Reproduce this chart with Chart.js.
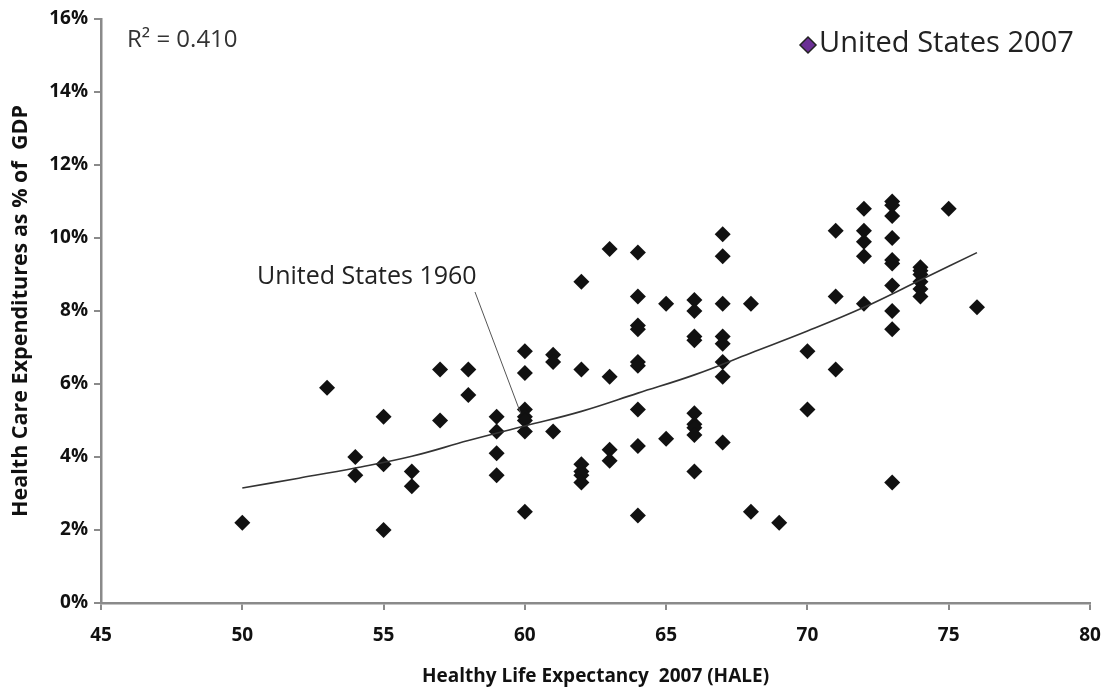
<!DOCTYPE html>
<html>
<head>
<meta charset="utf-8">
<script src="https://cdn.jsdelivr.net/npm/chart.js@4/dist/chart.umd.min.js"></script>
<style>
  html, body { margin: 0; padding: 0; background: #fff; }
  #wrap { width: 1111px; height: 688px; position: relative; }
</style>
</head>
<body>
<div id="wrap"><canvas id="chart"></canvas></div>
<script>
// HALE 2007 (x) and health spending % of GDP (y)
const hale = [
  50, 53, 54, 54, 55, 55, 55, 56, 56, 57, 57, 58, 58,
  59, 59, 59, 59, 60, 60, 60, 60, 60, 60, 60,
  61, 61, 61, 62, 62, 62, 62, 62, 62,
  63, 63, 63, 63, 64, 64, 64, 64, 64, 64, 64, 64, 64,
  65, 65, 66, 66, 66, 66, 66, 66, 66, 66, 66,
  67, 67, 67, 67, 67, 67, 67, 67, 68, 68, 69, 70, 70,
  71, 71, 71, 72, 72, 72, 72, 72,
  73, 73, 73, 73, 73, 73, 73, 73, 73, 73,
  74, 74, 74, 74, 74, 74, 75, 76
];
const spend = [
  2.2, 5.9, 4.0, 3.5, 5.1, 3.8, 2.0, 3.6, 3.2, 6.4, 5.0, 6.4, 5.7,
  5.1, 4.7, 4.1, 3.5, 6.9, 6.3, 5.3, 5.1, 5.0, 4.7, 2.5,
  6.8, 6.6, 4.7, 8.8, 6.4, 3.8, 3.6, 3.5, 3.3,
  9.7, 6.2, 4.2, 3.9, 9.6, 8.4, 7.6, 7.5, 6.6, 6.5, 5.3, 4.3, 2.4,
  8.2, 4.5, 8.3, 8.0, 7.3, 7.2, 5.2, 4.9, 4.8, 4.6, 3.6,
  10.1, 9.5, 8.2, 7.3, 7.1, 6.6, 6.2, 4.4, 8.2, 2.5, 2.2, 6.9, 5.3,
  10.2, 8.4, 6.4, 10.8, 10.2, 9.9, 9.5, 8.2,
  11.0, 10.9, 10.6, 10.0, 9.4, 9.3, 8.7, 8.0, 7.5, 3.3,
  9.2, 9.1, 9.0, 8.8, 8.6, 8.4, 10.8, 8.1
];

// trend curve
const trendX = [50, 52, 54, 56, 58, 60, 62, 64, 66, 68, 70, 72, 74, 76];
const trendY = [3.15, 3.42, 3.7, 4.02, 4.45, 4.85, 5.25, 5.75, 6.25, 6.85, 7.45, 8.1, 8.85, 9.6];

const xTicks = [45, 50, 55, 60, 65, 70, 75, 80];
const yTicks = [0, 2, 4, 6, 8, 10, 12, 14, 16];

// US 1960 callout target
const us1960 = { x: 59.85, y: 5.2 };

const FONT = '"Open Sans", "Liberation Sans", sans-serif';
const AXIS_GRAY = '#8a8a8a';

const points = hale.map((h, i) => ({ x: h, y: spend[i] }));
const trend = trendX.map((t, i) => ({ x: t, y: trendY[i] }));

const overlay = {
  id: 'overlay',
  afterDraw(chart) {
    const ctx = chart.ctx;
    const xs = chart.scales.x, ys = chart.scales.y;
    ctx.save();

    // R squared
    ctx.fillStyle = '#333';
    ctx.font = '24px ' + FONT;
    ctx.textBaseline = 'middle';
    ctx.textAlign = 'left';
    ctx.fillText('R² = 0.410', 127, 40);

    // legend (US 2007)
    const lx = 808, ly = 45, r = 8;
    ctx.beginPath();
    ctx.moveTo(lx, ly - r);
    ctx.lineTo(lx + r, ly);
    ctx.lineTo(lx, ly + r);
    ctx.lineTo(lx - r, ly);
    ctx.closePath();
    ctx.fillStyle = '#6b2f95';
    ctx.fill();
    ctx.lineWidth = 1.5;
    ctx.strokeStyle = '#222';
    ctx.stroke();
    ctx.fillStyle = '#222';
    ctx.font = '29px ' + FONT;
    ctx.fillText('United States 2007', 819, 44);

    // US 1960 callout
    ctx.font = '25px ' + FONT;
    ctx.fillStyle = '#222';
    ctx.fillText('United States 1960', 257, 277);
    ctx.beginPath();
    ctx.moveTo(475, 292);
    ctx.lineTo(xs.getPixelForValue(us1960.x), ys.getPixelForValue(us1960.y));
    ctx.lineWidth = 1;
    ctx.strokeStyle = '#555';
    ctx.stroke();

    ctx.restore();
  }
};

const ctx = document.getElementById('chart').getContext('2d');
new Chart(ctx, {
  data: {
    datasets: [
      {
        type: 'scatter',
        label: 'Countries 2007',
        data: points,
        pointStyle: 'rectRot',
        pointRadius: 8,
        pointBackgroundColor: '#111',
        pointBorderColor: '#111',
        pointBorderWidth: 0,
        order: 2
      },
      {
        type: 'line',
        label: 'Trend',
        data: trend,
        borderColor: '#333',
        borderWidth: 1.6,
        pointRadius: 0,
        tension: 0.4,
        fill: false,
        order: 1
      }
    ]
  },
  options: {
    responsive: true,
    maintainAspectRatio: false,
    animation: false,
    layout: { padding: { top: 19, right: 0, left: 0, bottom: 0 } },
    plugins: {
      legend: { display: false },
      tooltip: { enabled: false }
    },
    scales: {
      x: {
        type: 'linear',
        min: 45,
        max: 80,
        afterFit(scale) { scale.height = 85; scale.paddingRight = 21; },
        afterBuildTicks(scale) { scale.ticks = xTicks.map(v => ({ value: v })); },
        border: { display: true, color: AXIS_GRAY, width: 2.5 },
        grid: { display: true, drawOnChartArea: false, drawTicks: true, tickLength: 7, color: AXIS_GRAY, lineWidth: 2 },
        ticks: {
          color: '#111',
          padding: 14,
          font: { family: FONT, size: 19, weight: 'bold' }
        },
        title: {
          display: true,
          text: 'Healthy Life Expectancy  2007 (HALE)',
          color: '#111',
          font: { family: FONT, size: 19, weight: 'bold' },
          padding: { top: 6, bottom: 0 }
        }
      },
      y: {
        type: 'linear',
        min: 0,
        max: 16,
        afterFit(scale) { scale.width = 101; },
        afterBuildTicks(scale) { scale.ticks = yTicks.map(v => ({ value: v })); },
        border: { display: true, color: AXIS_GRAY, width: 2.5 },
        grid: { display: true, drawOnChartArea: false, drawTicks: true, tickLength: 7, color: AXIS_GRAY, lineWidth: 2 },
        ticks: {
          color: '#111',
          padding: 6,
          font: { family: FONT, size: 19, weight: 'bold' },
          callback: v => v + '%'
        },
        title: {
          display: true,
          text: 'Health Care Expenditures as % of  GDP',
          color: '#111',
          font: { family: FONT, size: 21.5, weight: 'bold' },
          padding: { top: 8, bottom: 14 }
        }
      }
    }
  },
  plugins: [overlay]
});
</script>
</body>
</html>
